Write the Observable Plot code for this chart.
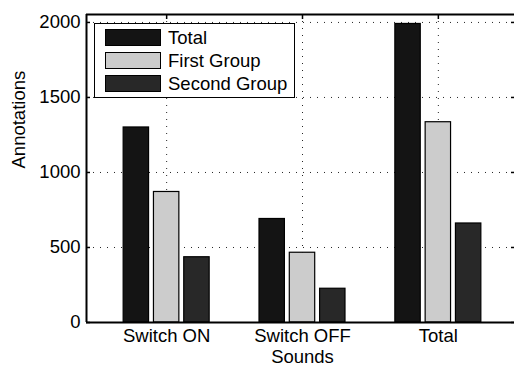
<!DOCTYPE html>
<html>
<head>
<meta charset="utf-8">
<script src="https://cdn.jsdelivr.net/npm/d3@7"></script>
<script src="https://cdn.jsdelivr.net/npm/@observablehq/plot@0.6"></script>
<style>
  html, body { margin: 0; padding: 0; background: #fff; }
  #wrap { position: relative; width: 514px; height: 366px; overflow: hidden; font-family: "Liberation Sans", Arial, Helvetica, sans-serif; }
  #legend { position: absolute; left: 94px; top: 23px; width: 199px; height: 73px; border: 1.6px solid #000; background: #fff; }
  .row { position: absolute; left: 10px; height: 17px; display: flex; align-items: center; }
  .sw { width: 56px; height: 17px; border: 1px solid #000; box-sizing: border-box; }
  .lab { margin-left: 7px; font-size: 18.5px; color: #000; line-height: 17px; white-space: nowrap; }
</style>
</head>
<body>
<div id="wrap"></div>
<script>
const categories = ["Switch ON", "Switch OFF", "Total"];
const seriesNames = ["Total", "First Group", "Second Group"];
const totalValues = [1300, 690, 1990];
const firstGroupValues = [870, 465, 1335];
const secondGroupValues = [435, 225, 660];
const yTicks = [0, 500, 1000, 1500, 2000];
const seriesColors = ["#141414", "#cccccc", "#282828"];

const seriesValues = [totalValues, firstGroupValues, secondGroupValues];
const rows = [];
categories.forEach((c, i) => {
  seriesNames.forEach((s, j) => {
    const center = i + 1 + (j - 1) * 0.223;
    rows.push({category: c, series: s, value: seriesValues[j][i], x1: center - 0.0935, x2: center + 0.0935});
  });
});

const xMin = 0.41, xMax = 3.59, yMax = 2053;
const fs = 18.5;

const chart = Plot.plot({
  width: 514,
  height: 366,
  marginLeft: 86,
  marginRight: 0,
  marginTop: 14,
  marginBottom: 44,
  style: {fontFamily: '"Liberation Sans", Arial, Helvetica, sans-serif', fontSize: fs + "px", color: "#000", background: "#fff"},
  x: {type: "linear", domain: [xMin, xMax], range: [86, 518]},
  y: {domain: [0, yMax]},
  color: {domain: seriesNames, range: seriesColors},
  marks: [
    Plot.gridY(yTicks.filter(d => d > 0), {stroke: "#000", strokeOpacity: 0.85, strokeDasharray: "1,6"}),
    Plot.gridX([1, 2, 3], {stroke: "#000", strokeOpacity: 0.85, strokeDasharray: "1,6"}),
    Plot.rectY(rows, {x1: "x1", x2: "x2", y1: 0, y2: "value", fill: "series", stroke: "#000", strokeWidth: 1.2}),
    Plot.axisY({ticks: yTicks, tickFormat: "d", tickSize: 0, tickPadding: 6, fontSize: fs, label: null}),
    Plot.axisY({ticks: yTicks, tickSize: -4, text: null, label: null, strokeWidth: 1.5}),
    Plot.axisY({anchor: "right", ticks: yTicks, tickSize: -4, text: null, label: null, strokeWidth: 1.5}),
    Plot.axisX({ticks: [1, 2, 3], tickFormat: d => categories[d - 1], tickSize: 0, tickPadding: 6, fontSize: fs, label: null}),
    Plot.axisX({anchor: "top", ticks: [1, 2, 3], tickSize: -4, text: null, label: null, strokeWidth: 1.5}),
    Plot.ruleY([0], {strokeWidth: 2}),
    Plot.ruleY([yMax], {strokeWidth: 2}),
    Plot.ruleX([xMin], {strokeWidth: 2}),
    Plot.text(["Sounds"], {frameAnchor: "bottom", x: (xMin + xMax) / 2, dy: 27, lineAnchor: "top", fontSize: fs}),
    Plot.text(["Annotations"], {frameAnchor: "left", dx: -67, rotate: -90, lineAnchor: "middle", fontSize: fs})
  ]
});

const wrap = document.getElementById("wrap");
wrap.appendChild(chart);

const legend = document.createElement("div");
legend.id = "legend";
seriesNames.forEach((s, j) => {
  const row = document.createElement("div");
  row.className = "row";
  row.style.top = (5 + j * 23) + "px";
  const sw = document.createElement("div");
  sw.className = "sw";
  sw.style.background = seriesColors[j];
  const lab = document.createElement("span");
  lab.className = "lab";
  lab.textContent = s;
  row.appendChild(sw);
  row.appendChild(lab);
  legend.appendChild(row);
});
wrap.appendChild(legend);
</script>
</body>
</html>
